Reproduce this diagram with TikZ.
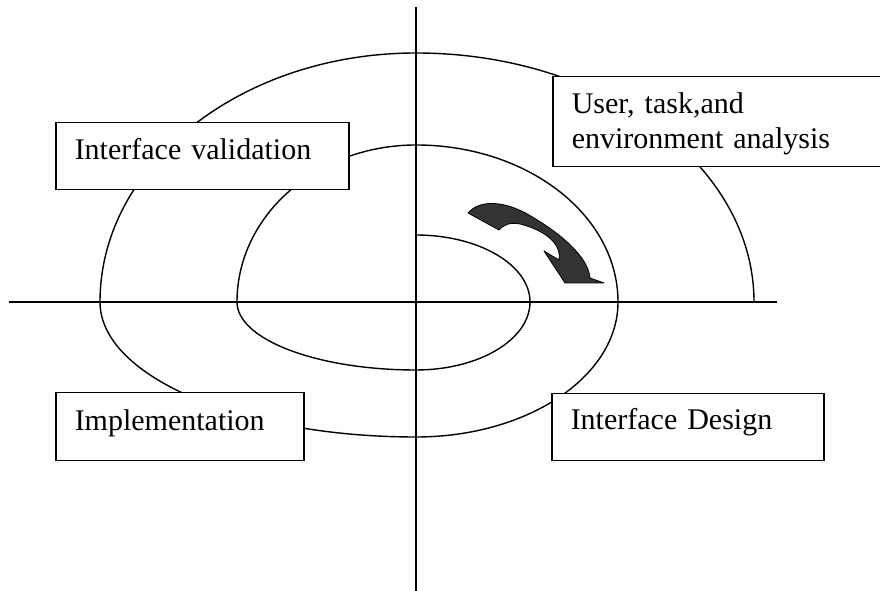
\documentclass[tikz,border=0pt]{standalone}
\usepackage{fontspec}
\setmainfont{Liberation Serif}
\definecolor{arrowgrey}{HTML}{333333}
\tikzset{
  axis/.style={line width=1.5pt},
  spiral/.style={line width=1.4pt},
  phasebox/.style={draw, line width=1.5pt, fill=white, anchor=north west,
    inner ysep=0pt, inner xsep=19pt, align=left,
    font=\fontsize{30}{35}\selectfont},
  turnarrow/.style={fill=arrowgrey, draw=black, line width=0.8pt, line join=round},
}
\begin{document}
\begin{tikzpicture}[x=1pt, y=1pt]
  \clip (0,0) rectangle (880,591);
  \fill[white] (0,0) rectangle (880,591);

  % axes
  \coordinate (top) at (416,584);
  \coordinate (bottom) at (416,0);
  \coordinate (left) at (9,289);
  \coordinate (right) at (777,289);
  \draw[axis] (top) -- (bottom);
  \draw[axis] (left) -- (right);

  % clockwise spiral made of quarter ellipses
  \draw[spiral] (416,356)
    arc[start angle=90,  end angle=0,   x radius=114, y radius=67]
    arc[start angle=0,   end angle=-90, x radius=114, y radius=68]
    arc[start angle=270, end angle=180, x radius=179, y radius=68]
    arc[start angle=180, end angle=90,  x radius=179, y radius=157]
    arc[start angle=90,  end angle=0,   x radius=202, y radius=157]
    arc[start angle=0,   end angle=-90, x radius=202, y radius=135]
    arc[start angle=270, end angle=180, x radius=316, y radius=135]
    arc[start angle=180, end angle=90,  x radius=316, y radius=249]
    arc[start angle=90,  end angle=0,   x radius=338, y radius=249];

  % curved direction arrow
  \draw[turnarrow] (468,378)
    .. controls (480,392) and (505,390) .. (529,376)
    .. controls (560,358) and (588,335) .. (590,313)
    -- (604,308) -- (565,308) -- (544,340) -- (559,331)
    .. controls (562,350) and (540,362) .. (520,367)
    .. controls (510,369) and (503,366) .. (499,361)
    -- cycle;

  % phase boxes
  \node[phasebox, text width=255pt, text height=37pt, text depth=30pt]
    (validation) at (55,469) {Interface validation};
  \node[phasebox, text width=330pt, text height=37pt, text depth=53pt]
    (analysis) at (552,515) {User, task,and\\environment analysis};
  \node[phasebox, text width=210pt, text height=38pt, text depth=30pt]
    (implementation) at (55,199) {Implementation};
  \node[phasebox, text width=234pt, text height=36pt, text depth=31pt]
    (design) at (551,198) {Interface Design};
\end{tikzpicture}
\end{document}
